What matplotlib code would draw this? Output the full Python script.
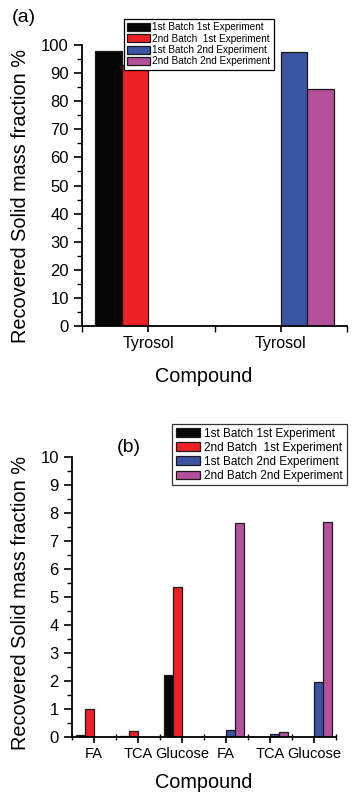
import numpy as np
import matplotlib
matplotlib.use("Agg")
import matplotlib.pyplot as plt
import matplotlib.transforms as mtransforms
from matplotlib.ticker import MultipleLocator

plt.rcParams['font.family'] = ['Liberation Sans', 'DejaVu Sans']

series = ['1st Batch 1st Experiment', '2nd Batch  1st Experiment',
          '1st Batch 2nd Experiment', '2nd Batch 2nd Experiment']
colors = ['#060606', '#ed2125', '#3a54a3', '#b5509c']

# panel (a): Tyrosol
labels_a = ['Tyrosol', 'Tyrosol']
vals_a = [[97.8, 0.0],     # 1st batch 1st exp
          [93.0, 0.0],     # 2nd batch 1st exp
          [0.0, 97.6],     # 1st batch 2nd exp
          [0.0, 84.5]]     # 2nd batch 2nd exp

# panel (b): FA, TCA, Glucose
labels_b = ['FA', 'TCA', 'Glucose', 'FA', 'TCA', 'Glucose']
vals_b = [[0.07, 0.03, 2.22, 0.0, 0.0, 0.0],
          [0.98, 0.19, 5.36, 0.0, 0.0, 0.0],
          [0.0, 0.0, 0.0, 0.24, 0.11, 1.97],
          [0.0, 0.0, 0.0, 7.64, 0.18, 7.66]]

W, H = 352, 793
fig = plt.figure(figsize=(W/100, H/100), dpi=100)

def px(x0, y0, x1, y1):
    # pixel box (top-left origin) -> figure fraction rect
    return [x0/W, 1 - y1/H, (x1-x0)/W, (y1-y0)/H]

def style(ax):
    for s in ['top', 'right']:
        ax.spines[s].set_visible(False)
    for s in ['left', 'bottom']:
        ax.spines[s].set_linewidth(1.3)
    ax.tick_params(axis='y', which='major', direction='out', length=6, width=1.2)
    ax.tick_params(axis='y', which='minor', direction='out', length=3.5, width=1.0)
    ax.tick_params(axis='x', which='major', direction='out', length=4, width=1.2)
    ax.tick_params(axis='x', which='minor', direction='inout', length=5, width=1.0)

def draw_bars(ax, vals, width):
    x = np.arange(1, len(vals[0]) + 1)
    for i, (v, c) in enumerate(zip(vals, colors)):
        ax.bar(x + (i - 1.5) * width, v, width, color=c, edgecolor='#1a1a1a',
               linewidth=0.9, label=series[i], zorder=2)
    return x

# ---- (a)
ax1 = fig.add_axes(px(82, 45, 347, 326))
x = draw_bars(ax1, vals_a, 0.2)
ax1.set_xlim(0.5, 2.5)
ax1.set_ylim(0, 100)
ax1.set_xticks(x)
ax1.set_xticklabels(labels_a, fontsize=11.5)
ax1.xaxis.set_minor_locator(MultipleLocator(0.5))
ax1.yaxis.set_major_locator(MultipleLocator(10))
ax1.yaxis.set_minor_locator(MultipleLocator(5))
ax1.tick_params(axis='y', labelsize=12)
style(ax1)
ax1.tick_params(axis='x', which='minor', direction='out', length=4)
leg1 = ax1.legend(loc='upper left', bbox_to_anchor=(124/W, 1 - 19/H),
                  bbox_transform=fig.transFigure, fontsize=7.2, frameon=True,
                  fancybox=False, framealpha=1, edgecolor='black',
                  handlelength=2.3, handleheight=0.85, handletextpad=0.25,
                  labelspacing=0.15, borderpad=0.3, borderaxespad=0)
leg1.get_frame().set_linewidth(0.9)
fig.text(12/W, 1 - 18/H, '(a)', fontsize=14, va='center', ha='left')
fig.text(204/W, 1 - 377/H, 'Compound', fontsize=14.3, ha='center', va='center')
fig.text(21/W, 1 - 196/H, 'Recovered Solid mass fraction %', fontsize=14.3,
         rotation=90, ha='center', va='center')

# ---- (b)
ax2 = fig.add_axes(px(72, 456.7, 336, 736.7))
x = draw_bars(ax2, vals_b, 0.205)
ax2.set_xlim(0.5, 6.5)
ax2.set_ylim(0, 10)
ax2.set_xticks(x)
ax2.set_xticklabels(labels_b, fontsize=10.5)
shift = mtransforms.ScaledTranslation(5/100, 0, fig.dpi_scale_trans)
for t in ax2.get_xticklabels():
    t.set_transform(t.get_transform() + shift)
ax2.xaxis.set_minor_locator(MultipleLocator(0.5))
ax2.yaxis.set_major_locator(MultipleLocator(1))
ax2.yaxis.set_minor_locator(MultipleLocator(0.5))
ax2.tick_params(axis='y', labelsize=12)
style(ax2)
leg2 = ax2.legend(loc='upper left', bbox_to_anchor=(172/W, 1 - 424/H),
                  bbox_transform=fig.transFigure, fontsize=8.5, frameon=True,
                  fancybox=False, framealpha=1, edgecolor='#333333',
                  handlelength=2.1, handleheight=0.72, handletextpad=0.35,
                  labelspacing=0.18, borderpad=0.3, borderaxespad=0)
leg2.get_frame().set_linewidth(0.9)
fig.text(129/W, 1 - 447/H, '(b)', fontsize=14, va='center', ha='center')
fig.text(204/W, 1 - 782/H, 'Compound', fontsize=14.3, ha='center', va='center')
fig.text(21/W, 1 - 603/H, 'Recovered Solid mass fraction %', fontsize=14.3,
         rotation=90, ha='center', va='center')

fig.savefig('out.png', dpi=100)
